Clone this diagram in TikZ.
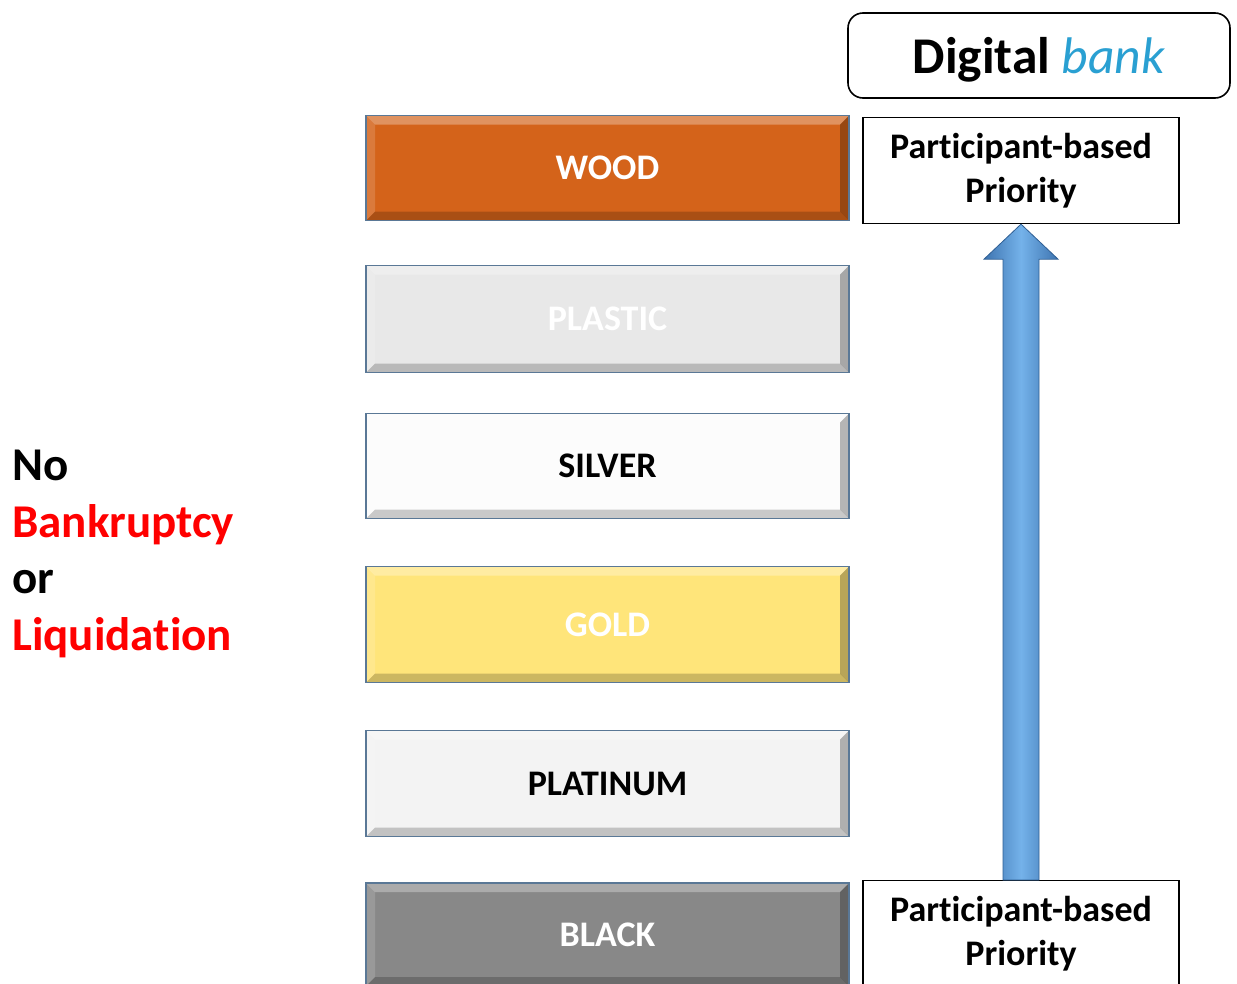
\documentclass[tikz,border=0pt]{standalone}
\usepackage{fontspec}
\setmainfont{Carlito}[Ligatures=NoCommon]
\usetikzlibrary{calc}
\definecolor{woodc}{HTML}{D4631A}
\definecolor{plasticc}{HTML}{E8E8E8}
\definecolor{silverc}{HTML}{FCFCFC}
\definecolor{goldc}{HTML}{FFE57A}
\definecolor{platc}{HTML}{F3F3F3}
\definecolor{blackc}{HTML}{888888}
\definecolor{boxedge}{HTML}{5A7896}
\definecolor{arrdark}{HTML}{3E74B0}
\definecolor{arrlight}{HTML}{74B2EA}
\definecolor{arredge}{HTML}{2F5F94}
\definecolor{bankc}{HTML}{2AA0D2}
\definecolor{redc}{HTML}{FF0000}
\tikzset{
  tier/.style={draw=boxedge, line width=1.3pt, minimum width=483pt, minimum height=#1, inner sep=0pt,
    font=\fontsize{36}{40}\selectfont\bfseries,
    path picture={
      \coordinate (nw) at (path picture bounding box.north west);
      \coordinate (ne) at (path picture bounding box.north east);
      \coordinate (sw) at (path picture bounding box.south west);
      \coordinate (se) at (path picture bounding box.south east);
      \fill[white, opacity=0.3] (nw) -- (ne) -- ([shift={(-9pt,-9pt)}]ne) -- ([shift={(9pt,-9pt)}]nw) -- cycle;
      \fill[white, opacity=0.15] (nw) -- (sw) -- ([shift={(9pt,9pt)}]sw) -- ([shift={(9pt,-9pt)}]nw) -- cycle;
      \fill[black, opacity=0.2] (sw) -- (se) -- ([shift={(-9pt,9pt)}]se) -- ([shift={(9pt,9pt)}]sw) -- cycle;
      \fill[black, opacity=0.28] (ne) -- (se) -- ([shift={(-9pt,9pt)}]se) -- ([shift={(-9pt,-9pt)}]ne) -- cycle;
    }},
  tier/.default=105pt,
  prio/.style={draw=black, line width=1.3pt, minimum width=316pt, minimum height=106pt, inner sep=0pt,
    align=center, font=\fontsize{36}{44}\selectfont\bfseries, fill=white},
}
\begin{document}
\begin{tikzpicture}[x=1pt,y=-1pt]
\useasboundingbox (0,0) rectangle (1237,983);
\clip (0,0) rectangle (1237,983);
\fill[white] (0,0) rectangle (1237,983);

\node[tier=105pt, fill=woodc, text=white] (wood) at (607.5,168) {WOOD};
\node[tier=107pt, fill=plasticc, text=white] (plastic) at (607.5,319) {PLASTIC};
\node[tier=105pt, fill=silverc, text=black] (silver) at (607.5,466) {SILVER};
\node[tier=116pt, fill=goldc, text=white] (gold) at (607.5,624.5) {GOLD};
\node[tier=106pt, fill=platc, text=black] (plat) at (607.5,783.5) {PLATINUM};
\node[tier=103pt, fill=blackc, text=white] (black) at (607.5,934.5) {BLACK};

\node[draw=black, line width=1.6pt, rounded corners=15pt, minimum width=382pt, minimum height=85pt,
  font=\fontsize{51.5}{56}\selectfont] (dig) at (1039,55.5) {\raisebox{-4pt}[\height][\depth]{\textbf{Digital} \textcolor{bankc}{\textit{bank}}}};

\node[prio] (pt) at (1021,170.5) {Participant-based\\Priority};
\node[prio, anchor=north] (pb) at (1021,880) {Participant-based\\Priority};

\coordinate (ab) at (pb.north);
\coordinate (at) at (pt.south);
\shade[left color=arrdark, right color=arrdark, middle color=arrlight, draw=arredge, line width=0.8pt]
  ([xshift=-18pt]ab) -- ([xshift=-18pt,yshift=-35pt]at) -- ([xshift=-37pt,yshift=-35pt]at) -- (at)
  -- ([xshift=37pt,yshift=-35pt]at) -- ([xshift=18pt,yshift=-35pt]at) -- ([xshift=18pt]ab) -- cycle;

\node[anchor=west, align=left, inner sep=0pt, font=\fontsize{47}{56.5}\selectfont\bfseries] (left) at (12,554)
  {No\\\textcolor{redc}{Bankruptcy}\\or\\\textcolor{redc}{Liquidation}};
\end{tikzpicture}
\end{document}
